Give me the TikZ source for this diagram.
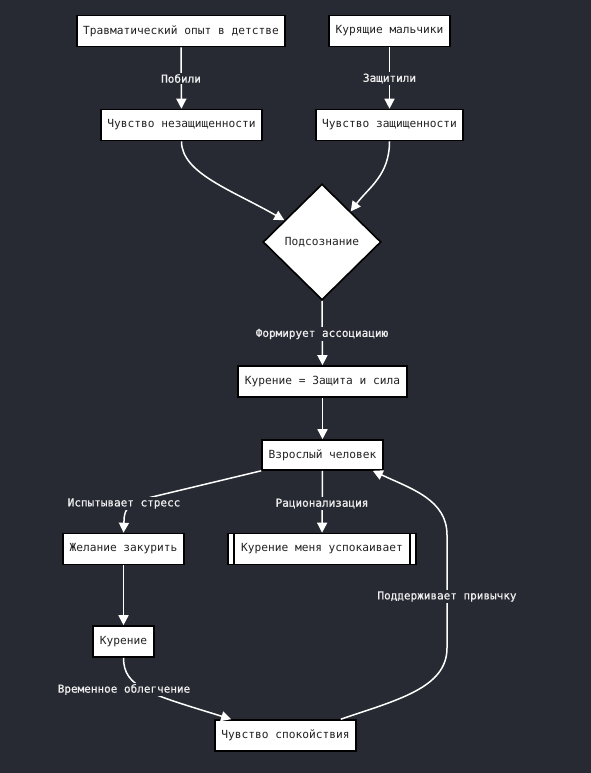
\documentclass[tikz,border=0pt]{standalone}
\usepackage{fontspec}
\newfontfamily\mono{DejaVu Sans Mono}
\newfontfamily\monob[FakeBold=0.8]{DejaVu Sans Mono}
\usetikzlibrary{arrows.meta,shapes.geometric,calc}
\definecolor{bg}{RGB}{40,42,51}
\definecolor{ink}{RGB}{35,35,35}
\definecolor{lbltext}{RGB}{238,238,238}
\begin{document}
\begin{tikzpicture}[x=1pt,y=-1pt,
  box/.style={draw=black,fill=white,line width=1.6pt,text=ink,
    font=\mono\fontsize{11.2}{13}\selectfont,minimum height=31pt,inner sep=0pt},
  dia/.style={diamond,draw=black,fill=white,line width=1.6pt,text=ink,
    font=\mono\fontsize{11.2}{13}\selectfont,minimum width=118pt,minimum height=116pt,inner sep=0pt},
  lbl/.style={fill=bg,text=lbltext,font=\monob\fontsize{11}{13}\selectfont,inner sep=1.5pt},
  conn/.style={draw=white,line width=1.5pt,-{Triangle[length=10pt,width=10pt]}}]
\fill[bg] (0,0) rectangle (591,773);
\useasboundingbox (0,0) rectangle (591,773);

% nodes
\node[box,minimum width=208pt] (b1) at (181,31) {Травматический опыт в детстве};
\node[box,minimum width=121pt] (b2) at (389.5,31) {Курящие мальчики};
\node[box,minimum width=161pt] (b3) at (181.5,125) {Чувство незащищенности};
\node[box,minimum width=147pt] (b4) at (389.5,125) {Чувство защищенности};
\node[dia] (d) at (322,242) {Подсознание};
\node[box,minimum width=169pt] (b5) at (322.5,381.5) {Курение = Защита и сила};
\node[box,minimum width=121pt,minimum height=30pt] (b6) at (322.5,455) {Взрослый человек};
\node[box,minimum width=121pt] (b7) at (123.5,549) {Желание закурить};
\node[box,minimum width=188pt] (b8) at (322,549) {Курение меня успокаивает};
\draw[line width=1.6pt] ($(b8.north west)+(7,0)$) -- ($(b8.south west)+(7,0)$);
\draw[line width=1.6pt] ($(b8.north east)+(-7,0)$) -- ($(b8.south east)+(-7,0)$);
\node[box,minimum width=61pt] (b9) at (123.5,641.5) {Курение};
\node[box,minimum width=141pt] (b10) at (285.5,735.5) {Чувство спокойствия};

% connectors
\draw[conn] (b1) -- (b3);
\draw[conn] (b2) -- (b4);
\coordinate (dl) at ($(d.west)!0.37!(d.north)$);
\coordinate (dr) at ($(d.north)!0.48!(d.east)$);
\draw[conn] (b3.south) .. controls +(0,32) and +(-52,-30) .. (dl);
\draw[conn] (b4.south) .. controls +(0,34) and +(18,-24) .. (dr);
\draw[conn] (d.south) -- (b5.north);
\draw[conn] (b5) -- (b6);
\coordinate (s1) at (152,497);
\draw[conn] (b6.south west) -- (s1) .. controls (130,502) and (124,508) .. (124,521) -- (b7.north);
\draw[conn] (b6) -- (b8);
\draw[conn] (b7) -- (b9);
\coordinate (r1) at ($(b10.north west)+(17,0)$);
\draw[conn] (b9.south) .. controls +(0,30) and (150,694) .. (r1);
\coordinate (t1) at ($(b10.north east)+(-16,0)$);
\coordinate (t2) at ($(b6.south east)+(-11,0)$);
\draw[conn] (t1) .. controls (397,700) and (447,688) .. (447,648) -- (447,535)
  .. controls (447,500) and (412,489) .. (t2);

% labels
\node[lbl] (l1) at (181,78.5) {Побили};
\node[lbl] (l2) at (389.5,78.5) {Защитили};
\node[lbl] (l3) at (322,334) {Формирует ассоциацию};
\node[lbl] (l4) at (124,503.5) {Испытывает стресс};
\node[lbl] (l5) at (322,503.5) {Рационализация};
\node[lbl] (l6) at (124,689.5) {Временное облегчение};
\node[lbl] (l7) at (447,596.5) {Поддерживает привычку};
\end{tikzpicture}
\end{document}
